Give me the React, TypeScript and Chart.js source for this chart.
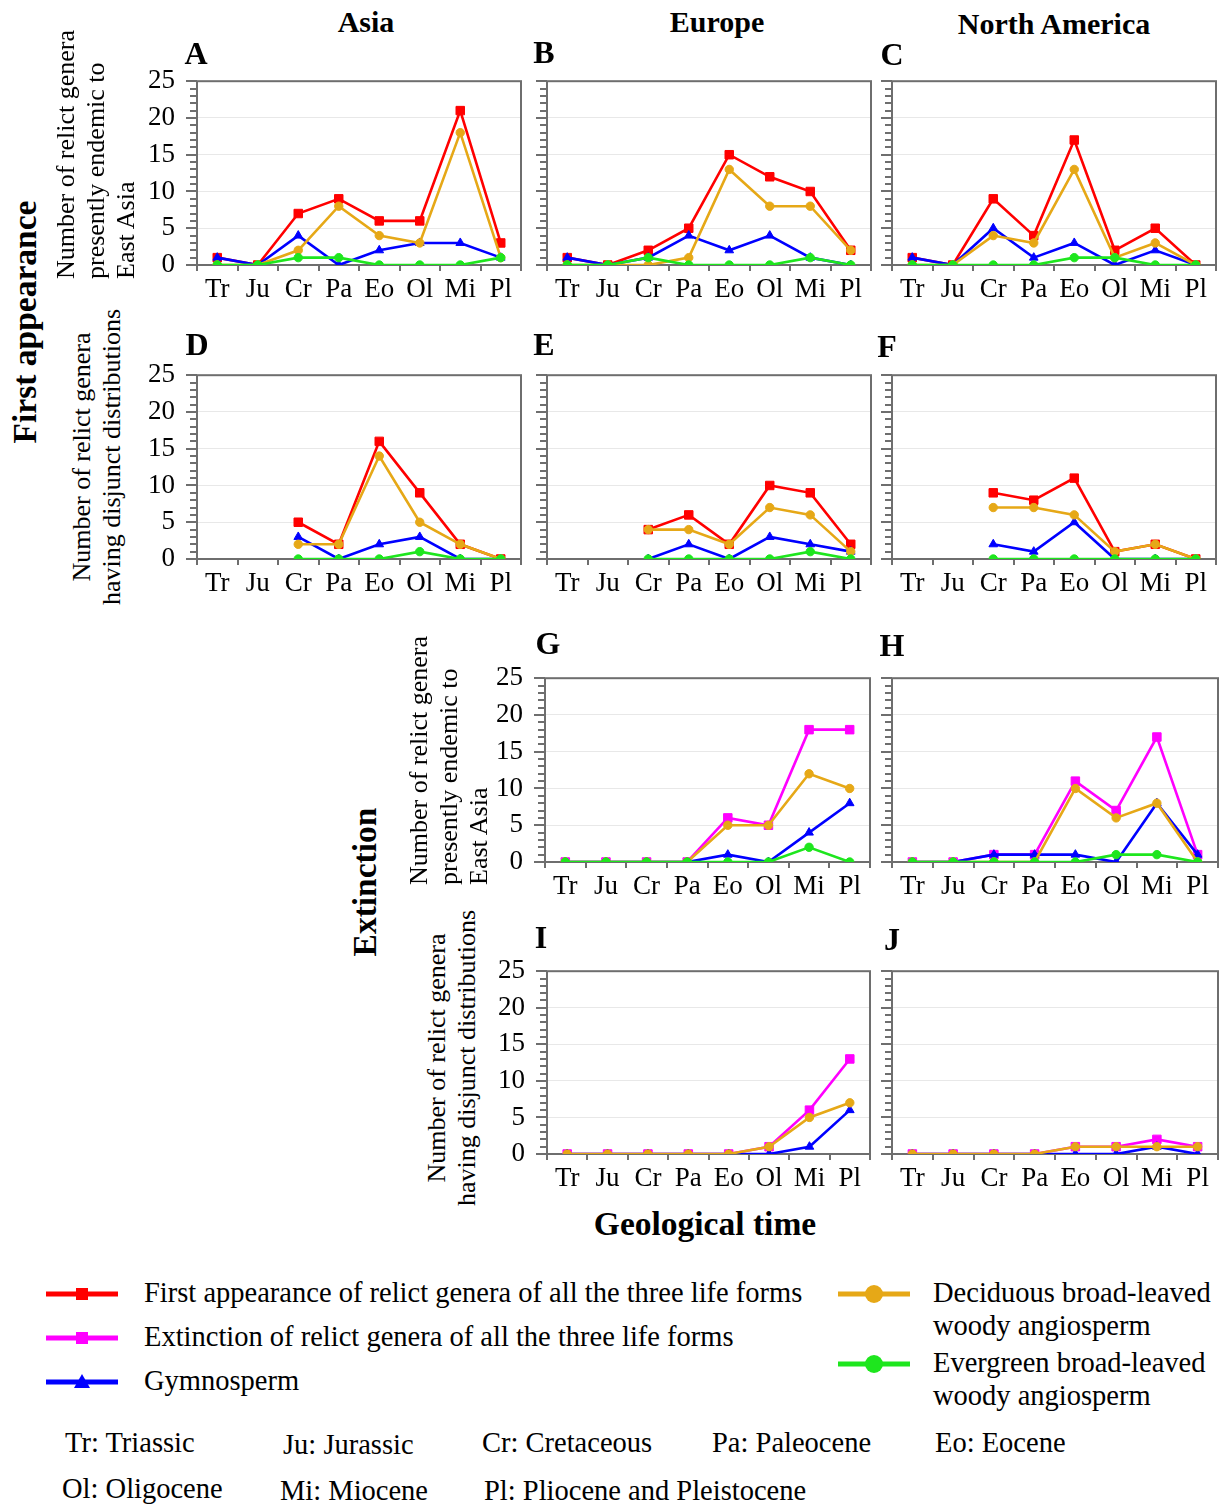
import React, { useEffect, useRef } from 'react';
import { Chart, registerables } from 'chart.js';

Chart.register(...registerables);

// ---------- data ----------
const periods = ['Tr', 'Ju', 'Cr', 'Pa', 'Eo', 'Ol', 'Mi', 'Pl'];
const yMax = 25;

// First appearance, endemic to East Asia
const aTotal = [1, 0, 7, 9, 6, 6, 21, 3];
const aGymno = [1, 0, 4, 0, 2, 3, 3, 1];
const aDecid = [0, 0, 2, 8, 4, 3, 18, 1];
const aEver = [0, 0, 1, 1, 0, 0, 0, 1];

const bTotal = [1, 0, 2, 5, 15, 12, 10, 2];
const bGymno = [1, 0, 1, 4, 2, 4, 1, 0];
const bDecid = [0, 0, 0, 1, 13, 8, 8, 2];
const bEver = [0, 0, 1, 0, 0, 0, 1, 0];

const cTotal = [1, 0, 9, 4, 17, 2, 5, 0];
const cGymno = [1, 0, 5, 1, 3, 0, 2, 0];
const cDecid = [0, 0, 4, 3, 13, 1, 3, 0];
const cEver = [0, 0, 0, 0, 1, 1, 0, 0];

// First appearance, disjunct distributions
const dTotal = [null, null, 5, 2, 16, 9, 2, 0];
const dGymno = [null, null, 3, 0, 2, 3, 0, 0];
const dDecid = [null, null, 2, 2, 14, 5, 2, 0];
const dEver = [null, null, 0, 0, 0, 1, 0, 0];

const eTotal = [null, null, 4, 6, 2, 10, 9, 2];
const eGymno = [null, null, 0, 2, 0, 3, 2, 1];
const eDecid = [null, null, 4, 4, 2, 7, 6, 1];
const eEver = [null, null, 0, 0, 0, 0, 1, 0];

const fTotal = [null, null, 9, 8, 11, 1, 2, 0];
const fGymno = [null, null, 2, 1, 5, 0, 0, 0];
const fDecid = [null, null, 7, 7, 6, 1, 2, 0];
const fEver = [null, null, 0, 0, 0, 0, 0, 0];

// Extinction, endemic to East Asia
const gTotal = [0, 0, 0, 0, 6, 5, 18, 18];
const gGymno = [0, 0, 0, 0, 1, 0, 4, 8];
const gDecid = [0, 0, 0, 0, 5, 5, 12, 10];
const gEver = [0, 0, 0, 0, 0, 0, 2, 0];

const hTotal = [0, 0, 1, 1, 11, 7, 17, 1];
const hGymno = [0, 0, 1, 1, 1, 0, 8, 1];
const hDecid = [0, 0, 0, 0, 10, 6, 8, 0];
const hEver = [0, 0, 0, 0, 0, 1, 1, 0];

// Extinction, disjunct distributions
const iTotal = [0, 0, 0, 0, 0, 1, 6, 13];
const iGymno = [0, 0, 0, 0, 0, 0, 1, 6];
const iDecid = [0, 0, 0, 0, 0, 1, 5, 7];

const jTotal = [0, 0, 0, 0, 1, 1, 2, 1];
const jGymno = [0, 0, 0, 0, 0, 0, 1, 0];
const jDecid = [0, 0, 0, 0, 1, 1, 1, 1];

// ---------- styles ----------
const RED = '#ff0000';
const MAGENTA = '#ff00ff';
const BLUE = '#0000ff';
const ORANGE = '#e6a817';
const GREEN = '#1ee61e';
const SERIF = "'Liberation Serif', 'Times New Roman', serif";

const Y_W = 60;
const PAD_T = 18;
const PAD_R = 14;
const X_H = 46;

type PanelDef = {
  letter: string;
  total: (number | null)[];
  gymno: (number | null)[];
  decid: (number | null)[];
  ever?: (number | null)[];
  totalColor: string;
  box: [number, number, number, number]; // left, top, right, bottom of plot area
  showY: boolean;
  letterAt: [number, number];
};

const panels: PanelDef[] = [
  { letter: 'A', total: aTotal, gymno: aGymno, decid: aDecid, ever: aEver, totalColor: RED, box: [197, 81, 521, 265], showY: true, letterAt: [196, 53] },
  { letter: 'B', total: bTotal, gymno: bGymno, decid: bDecid, ever: bEver, totalColor: RED, box: [547, 81, 871, 265], showY: false, letterAt: [544, 52] },
  { letter: 'C', total: cTotal, gymno: cGymno, decid: cDecid, ever: cEver, totalColor: RED, box: [892, 81, 1216, 265], showY: false, letterAt: [892, 54] },
  { letter: 'D', total: dTotal, gymno: dGymno, decid: dDecid, ever: dEver, totalColor: RED, box: [197, 375, 521, 559], showY: true, letterAt: [197, 344] },
  { letter: 'E', total: eTotal, gymno: eGymno, decid: eDecid, ever: eEver, totalColor: RED, box: [547, 375, 871, 559], showY: false, letterAt: [544, 344] },
  { letter: 'F', total: fTotal, gymno: fGymno, decid: fDecid, ever: fEver, totalColor: RED, box: [892, 375, 1216, 559], showY: false, letterAt: [887, 346] },
  { letter: 'G', total: gTotal, gymno: gGymno, decid: gDecid, ever: gEver, totalColor: MAGENTA, box: [545, 678, 870, 862], showY: true, letterAt: [548, 643] },
  { letter: 'H', total: hTotal, gymno: hGymno, decid: hDecid, ever: hEver, totalColor: MAGENTA, box: [892, 678, 1218, 862], showY: false, letterAt: [892, 645] },
  { letter: 'I', total: iTotal, gymno: iGymno, decid: iDecid, totalColor: MAGENTA, box: [547, 971, 870, 1154], showY: true, letterAt: [541, 937] },
  { letter: 'J', total: jTotal, gymno: jGymno, decid: jDecid, totalColor: MAGENTA, box: [892, 971, 1218, 1154], showY: false, letterAt: [892, 939] },
];

const framePlugin = {
  id: 'frame',
  beforeDatasetsDraw(chart: any) {
    const { ctx, chartArea: a, scales } = chart;
    const y = scales.y;
    const x = scales.x;
    ctx.save();
    ctx.strokeStyle = '#6e6e6e';
    ctx.lineWidth = 2;
    for (let v = 0; v <= yMax; v++) {
      const py = Math.round(y.getPixelForValue(v));
      const len = v % 5 === 0 ? 11 : 7;
      ctx.beginPath();
      ctx.moveTo(a.left - len, py);
      ctx.lineTo(a.left, py);
      ctx.stroke();
    }
    const step = x.getPixelForValue(1) - x.getPixelForValue(0);
    for (let i = 0; i <= periods.length; i++) {
      const px = Math.round(x.getPixelForValue(i) - step / 2);
      ctx.beginPath();
      ctx.moveTo(px, a.bottom);
      ctx.lineTo(px, a.bottom + 6);
      ctx.stroke();
    }
    ctx.strokeRect(a.left, a.top, a.right - a.left, a.bottom - a.top);
    ctx.restore();
  },
};

function ds(data: (number | null)[], color: string, style: string, radius: number, order: number) {
  return {
    data,
    borderColor: color,
    backgroundColor: color,
    pointBackgroundColor: color,
    pointBorderColor: color,
    pointStyle: style,
    pointRadius: radius,
    pointBorderWidth: 1,
    borderWidth: 2.6,
    tension: 0,
    spanGaps: false,
    order,
  };
}

function Panel({ p }: { p: PanelDef }) {
  const ref = useRef<HTMLCanvasElement | null>(null);
  const wrap = useRef<HTMLDivElement | null>(null);
  const [l, t, r, b] = p.box;
  const W = r - l + Y_W + PAD_R;
  const H = b - t + PAD_T + X_H;
  useEffect(() => {
    if (!ref.current) return;
    const datasets: any[] = [
      ds(p.total, p.totalColor, 'rect', 6, 4),
      ds(p.gymno, BLUE, 'triangle', 5, 3),
      ds(p.decid, ORANGE, 'circle', 4.2, 2),
    ];
    if (p.ever) datasets.push(ds(p.ever, GREEN, 'circle', 4.2, 1));
    const chart = new Chart(ref.current, {
      type: 'line',
      data: { labels: periods, datasets },
      plugins: [framePlugin],
      options: {
        animation: false,
        responsive: false,
        maintainAspectRatio: false,
        layout: { padding: { top: 0, right: PAD_R, left: 0, bottom: 0 } },
        plugins: { legend: { display: false }, tooltip: { enabled: false } },
        scales: {
          x: {
            type: 'category',
            offset: true,
            grid: { display: false, drawTicks: false },
            border: { display: false },
            ticks: { color: '#000', font: { family: SERIF, size: 27 }, padding: 9, autoSkip: false, maxRotation: 0 },
            afterFit: (s: any) => { s.height = X_H; },
          },
          y: {
            min: 0,
            max: yMax,
            grid: {
              drawTicks: false,
              color: (c: any) => (c.tick && c.tick.value > 0 && c.tick.value < yMax ? '#e8e8e8' : 'rgba(0,0,0,0)'),
              lineWidth: 1,
            },
            border: { display: false },
            ticks: {
              stepSize: 5,
              autoSkip: false,
              color: '#000',
              font: { family: SERIF, size: 27 },
              padding: 22,
              callback: (v: any) => (p.showY ? String(v) : ''),
            },
            afterFit: (s: any) => { s.width = Y_W; },
          },
        },
      } as any,
    });
    // align the plot area with the intended box: shift and grow the canvas by the measured offset
    const ca = chart.chartArea;
    const dT = Math.round(ca.top - PAD_T);
    const dL = Math.round(ca.left - Y_W);
    if ((dT !== 0 || dL !== 0) && wrap.current && ref.current) {
      const nW = W + dL;
      const nH = H + dT;
      const w = wrap.current.style;
      w.top = `${t - PAD_T - dT}px`;
      w.left = `${l - Y_W - dL}px`;
      w.width = `${nW}px`;
      w.height = `${nH}px`;
      ref.current.style.width = `${nW}px`;
      ref.current.style.height = `${nH}px`;
      chart.resize(nW, nH);
    }
    return () => chart.destroy();
  }, []);
  return (
    <div ref={wrap} style={{ position: 'absolute', left: l - Y_W, top: t - PAD_T, width: W, height: H }}>
      <canvas ref={ref} width={W} height={H} style={{ width: W, height: H, display: 'block' }} />
    </div>
  );
}

function Txt({ x, y, children, size = 26, bold = false, anchor = 'center' }: any) {
  const tx = anchor === 'center' ? '-50%' : anchor === 'left' ? '0' : '-100%';
  return (
    <div
      style={{
        position: 'absolute', left: x, top: y, transform: `translate(${tx}, -50%)`,
        fontFamily: SERIF, fontSize: size, fontWeight: bold ? 'bold' : 'normal',
        whiteSpace: 'nowrap', lineHeight: 1.15, color: '#000',
      }}
    >
      {children}
    </div>
  );
}

function VText({ x, y, lines, size = 26, bold = false, lh = 30 }: any) {
  return (
    <div
      style={{
        position: 'absolute', left: x, top: y, transform: 'translate(-50%, -50%) rotate(-90deg)',
        fontFamily: SERIF, fontSize: size, fontWeight: bold ? 'bold' : 'normal',
        whiteSpace: 'nowrap', lineHeight: `${lh}px`, textAlign: 'center', color: '#000',
      }}
    >
      {lines.map((s: string, i: number) => <div key={i}>{s}</div>)}
    </div>
  );
}

function VTextStart({ x, y, lines, size = 26, lh = 30 }: any) {
  return (
    <div
      style={{
        position: 'absolute', left: x, top: y, transformOrigin: '0 0', transform: 'rotate(-90deg)',
        fontFamily: SERIF, fontSize: size, whiteSpace: 'nowrap', lineHeight: `${lh}px`, textAlign: 'left', color: '#000',
      }}
    >
      {lines.map((s: string, i: number) => <div key={i}>{s}</div>)}
    </div>
  );
}

function LegendMark({ color, shape }: { color: string; shape: string }) {
  return (
    <svg width={76} height={24} style={{ display: 'block' }}>
      <line x1={2} y1={12} x2={74} y2={12} stroke={color} strokeWidth={5} />
      {shape === 'rect' && <rect x={32} y={6} width={12} height={12} fill={color} />}
      {shape === 'triangle' && <polygon points="38,4 46,18 30,18" fill={color} />}
      {shape === 'circle' && <circle cx={38} cy={12} r={9} fill={color} />}
    </svg>
  );
}

const legendItems = [
  { color: RED, shape: 'rect', lines: ['First appearance of relict genera of all the three life forms'], mx: 44, y: 1294, tx: 144 },
  { color: MAGENTA, shape: 'rect', lines: ['Extinction of relict genera of all the three life forms'], mx: 44, y: 1338, tx: 144 },
  { color: BLUE, shape: 'triangle', lines: ['Gymnosperm'], mx: 44, y: 1382, tx: 144 },
  { color: ORANGE, shape: 'circle', lines: ['Deciduous broad-leaved', 'woody angiosperm'], mx: 836, y: 1294, tx: 933 },
  { color: GREEN, shape: 'circle', lines: ['Evergreen broad-leaved', 'woody angiosperm'], mx: 836, y: 1364, tx: 933 },
];

const abbrevs = [
  { t: 'Tr: Triassic', x: 65, y: 1443 },
  { t: 'Ju: Jurassic', x: 283, y: 1445 },
  { t: 'Cr: Cretaceous', x: 482, y: 1443 },
  { t: 'Pa: Paleocene', x: 712, y: 1443 },
  { t: 'Eo: Eocene', x: 935, y: 1443 },
  { t: 'Ol: Oligocene', x: 62, y: 1489 },
  { t: 'Mi: Miocene', x: 280, y: 1491 },
  { t: 'Pl: Pliocene and Pleistocene', x: 484, y: 1491 },
];

export default function App() {
  return (
    <div style={{ position: 'absolute', left: 0, top: 0, width: 1225, height: 1504, background: '#fff', overflow: 'hidden' }}>
      <Txt x={366} y={22} size={30} bold>Asia</Txt>
      <Txt x={717} y={22} size={30} bold>Europe</Txt>
      <Txt x={1054} y={24} size={30} bold>North America</Txt>

      {panels.map((p) => (
        <React.Fragment key={p.letter}>
          <Panel p={p} />
          <Txt x={p.letterAt[0]} y={p.letterAt[1]} size={32} bold>{p.letter}</Txt>
        </React.Fragment>
      ))}

      <VText x={25} y={322} lines={['First appearance']} size={33.5} bold lh={36} />
      <VText x={365} y={882} lines={['Extinction']} size={33.5} bold lh={36} />

      <VTextStart x={51} y={279} lines={['Number of relict genera', 'presently endemic to', 'East Asia']} />
      <VText x={97} y={457} lines={['Number of relict genera', 'having disjunct distributions']} />
      <VTextStart x={404} y={885} lines={['Number of relict genera', 'presently endemic to', 'East Asia']} />
      <VText x={452} y={1058} lines={['Number of relict genera', 'having disjunct distributions']} />

      <Txt x={705} y={1224} size={33.5} bold>Geological time</Txt>

      {legendItems.map((it, i) => (
        <React.Fragment key={i}>
          <div style={{ position: 'absolute', left: it.mx, top: it.y - 12 }}>
            <LegendMark color={it.color} shape={it.shape} />
          </div>
          {it.lines.map((s, k) => (
            <Txt key={k} x={it.tx} y={it.y - 1 + k * 33} size={28.5} anchor="left">{s}</Txt>
          ))}
        </React.Fragment>
      ))}

      {abbrevs.map((a, i) => (
        <Txt key={i} x={a.x} y={a.y} size={28.5} anchor="left">{a.t}</Txt>
      ))}
    </div>
  );
}
